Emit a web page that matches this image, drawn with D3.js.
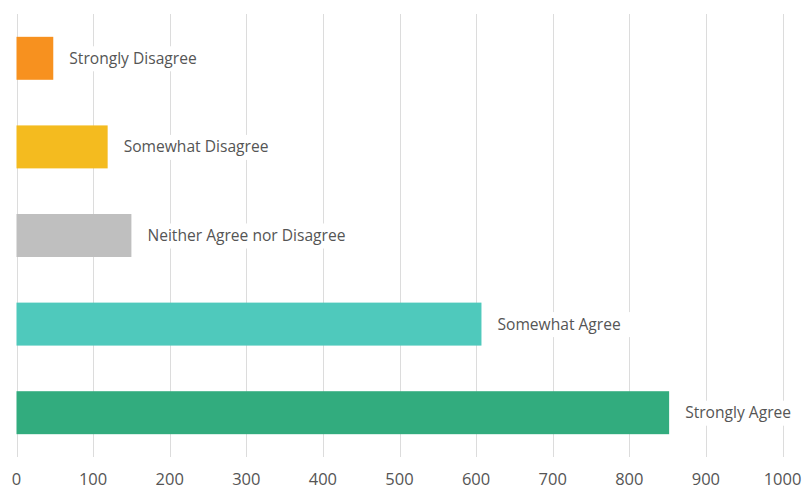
<!DOCTYPE html>
<html>
<head>
<meta charset="utf-8">
<script src="https://cdnjs.cloudflare.com/ajax/libs/d3/7.8.5/d3.min.js"></script>
<style>
  body { margin: 0; background: #fff; }
  text { font-family: "Open Sans", sans-serif; fill: #555; }
</style>
</head>
<body>
<div id="chart"></div>
<script>
// chart data
var categories = ["Strongly Disagree", "Somewhat Disagree", "Neither Agree nor Disagree", "Somewhat Agree", "Strongly Agree"];
var counts = [48, 119, 150, 607, 852];
var barColors = ["#f7911f", "#f4bb1f", "#bfbfbf", "#4fc9bc", "#32ac7e"];
var xTicks = [0, 100, 200, 300, 400, 500, 600, 700, 800, 900, 1000];

var width = 804, height = 489;

var svg = d3.select("#chart").append("svg")
  .attr("width", width)
  .attr("height", height);

var x = d3.scaleLinear().domain([0, 1000]).range([16.5, 782.5]);
var y = d3.scaleBand().domain(categories).range([14, 457]).paddingInner(0.515).paddingOuter(0.2575);

// gridlines
svg.append("g").selectAll("line")
  .data(xTicks)
  .enter().append("line")
  .attr("x1", function(d) { return Math.round(x(d)) + 0.5; })
  .attr("x2", function(d) { return Math.round(x(d)) + 0.5; })
  .attr("y1", 14)
  .attr("y2", 457)
  .style("stroke", "#dcdcdc")
  .style("stroke-width", 1);

// bars
svg.append("g").selectAll("rect")
  .data(categories)
  .enter().append("rect")
  .attr("x", x(0))
  .attr("y", function(d) { return y(d); })
  .attr("width", function(d, i) { return x(counts[i]) - x(0); })
  .attr("height", y.bandwidth())
  .style("fill", function(d, i) { return barColors[i]; });

// labels with white boxes behind them
var labels = svg.append("g").selectAll("g")
  .data(categories)
  .enter().append("g")
  .attr("transform", function(d, i) {
    return "translate(" + (x(counts[i]) + 16) + "," + (y(d) + y.bandwidth() / 2) + ")";
  });

labels.append("rect").attr("class", "bg");
labels.append("text")
  .attr("dy", "0.35em")
  .style("font-size", "15.6px")
  .text(function(d) { return d; });

labels.each(function() {
  var g = d3.select(this);
  var w = g.select("text").node().getComputedTextLength();
  g.select("rect")
    .attr("x", -9)
    .attr("y", -12)
    .attr("width", w + 23)
    .attr("height", 25)
    .style("fill", "#fff");
});

// x axis labels
svg.append("g").selectAll("text")
  .data(xTicks)
  .enter().append("text")
  .attr("x", function(d) { return x(d); })
  .attr("y", 479)
  .attr("dy", "0.35em")
  .attr("text-anchor", "middle")
  .style("font-size", "16.5px")
  .text(function(d) { return d; });
</script>
</body>
</html>
